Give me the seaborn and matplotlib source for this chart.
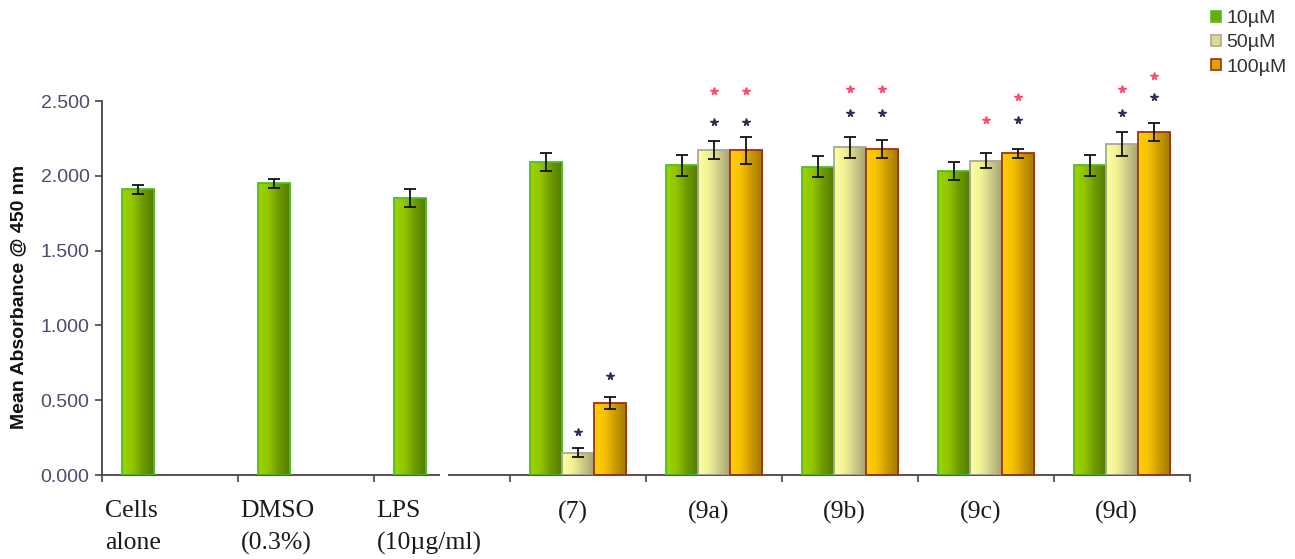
import numpy as np
import pandas as pd
import matplotlib
matplotlib.use("Agg")
import matplotlib.pyplot as plt
import seaborn as sns
from matplotlib.colors import LinearSegmentedColormap
from matplotlib.patches import Patch

# ---------------- data ----------------
categories = ["Cells\nalone", "DMSO\n(0.3%)", "LPS\n(10µg/ml)", "(7)", "(9a)", "(9b)", "(9c)", "(9d)"]
concs = ["10µM", "50µM", "100µM"]
mean_10 = [1.91, 1.95, 1.85, 2.09, 2.07, 2.06, 2.03, 2.07]
err_10 = [0.03, 0.03, 0.06, 0.06, 0.07, 0.07, 0.06, 0.07]
mean_50 = [None, None, None, 0.15, 2.17, 2.19, 2.10, 2.21]
err_50 = [None, None, None, 0.03, 0.06, 0.07, 0.05, 0.08]
mean_100 = [None, None, None, 0.48, 2.17, 2.18, 2.15, 2.29]
err_100 = [None, None, None, 0.04, 0.09, 0.06, 0.03, 0.06]
yticks = [0.0, 0.5, 1.0, 1.5, 2.0, 2.5]
ytick_labels = ["0.000", "0.500", "1.000", "1.500", "2.000", "2.500"]
ylabel = "Mean Absorbance @ 450 nm"

# significance stars: category, concentration, height, kind
star_cat = ["(7)", "(7)", "(9a)", "(9a)", "(9a)", "(9a)", "(9b)", "(9b)", "(9b)", "(9b)",
            "(9c)", "(9c)", "(9c)", "(9d)", "(9d)", "(9d)", "(9d)"]
star_conc = ["50µM", "100µM", "50µM", "50µM", "100µM", "100µM", "50µM", "50µM", "100µM", "100µM",
             "50µM", "100µM", "100µM", "50µM", "50µM", "100µM", "100µM"]
star_y = [0.29, 0.66, 2.36, 2.57, 2.36, 2.57, 2.42, 2.58, 2.42, 2.58,
          2.37, 2.37, 2.53, 2.42, 2.58, 2.53, 2.67]
star_kind = ["b", "b", "b", "r", "b", "r", "b", "r", "b", "r",
             "r", "b", "r", "b", "r", "b", "r"]

# ---------------- build long table ----------------
means = {"10µM": mean_10, "50µM": mean_50, "100µM": mean_100}
errs = {"10µM": err_10, "50µM": err_50, "100µM": err_100}
rows = []
for c in concs:
    for cat, m, e in zip(categories, means[c], errs[c]):
        if m is not None:
            rows.append({"category": cat, "conc": c, "value": m, "err": e})
df = pd.DataFrame(rows)

# ---------------- style ----------------
grad_stops = {
    "10µM": ["#a2d400", "#90c400", "#6a9600", "#527a00"],
    "50µM": ["#ffffa0", "#f2f294", "#c8c886", "#a4a070"],
    "100µM": ["#ffd000", "#f4c200", "#c89600", "#a07800"],
}
edge_cols = {"10µM": "#4cbf2a", "50µM": "#a8a898", "100µM": "#a0301a"}
mid_cols = {"10µM": "#6fa800", "50µM": "#dcdc8c", "100µM": "#dca400"}
star_cols = {"b": "#2e2e5c", "r": "#ff4a6a"}

W, H = 1295, 559
fig = plt.figure(figsize=(W / 100, H / 100), dpi=100)
ax = fig.add_axes([102 / W, (H - 475) / H, (1190 - 102) / W, (475 - 101) / H])

group_w = 0.71
sns.barplot(data=df, x="category", y="value", hue="conc", order=categories,
            hue_order=concs, palette=mid_cols, width=group_w, dodge=True,
            errorbar=None, saturation=1, legend=False, ax=ax)

bw = group_w / len(concs)
cat_idx = {c: i for i, c in enumerate(categories)}
for p in list(ax.patches):
    h = p.get_height()
    if not np.isfinite(h) or h <= 0:
        continue
    x0, w = p.get_x(), p.get_width()
    xc = x0 + w / 2
    ci = int(round(xc))
    hi = int(round((xc - ci) / bw)) + 1
    conc = concs[hi]
    cmap = LinearSegmentedColormap.from_list("g" + conc, grad_stops[conc])
    grad = np.linspace(0, 1, 128).reshape(1, -1)
    im = ax.imshow(grad, cmap=cmap, extent=[x0, x0 + w, 0, h], aspect="auto",
                   origin="lower", zorder=2, interpolation="bilinear")
    im.set_clip_path(p)
    p.set_facecolor("none")
    p.set_edgecolor(edge_cols[conc])
    p.set_linewidth(1.3)
    p.set_zorder(3)
    e = errs[conc][ci]
    ax.errorbar(xc, h, yerr=e, fmt="none", ecolor="#111111", elinewidth=1.3,
                capsize=4.5, capthick=1.3, zorder=4)

for cat, conc, y, k in zip(star_cat, star_conc, star_y, star_kind):
    x = cat_idx[cat] + (concs.index(conc) - 1) * bw
    ax.plot(x, y, marker="*", ms=5.5, color=star_cols[k], mec=star_cols[k],
            linestyle="none", clip_on=False, zorder=5)

ax.set_xlim(-0.5, len(categories) - 0.5)
ax.set_ylim(0, 2.5)
ax.set_yticks(yticks)
ax.set_yticklabels(ytick_labels)
ax.set_xticks(np.arange(-0.5, len(categories), 1.0))
ax.set_xticklabels([])
ax.set_xlabel("")
ax.set_ylabel(ylabel, fontsize=14, fontweight="bold", family=["Liberation Sans", "DejaVu Sans"],
              labelpad=5, color="#111111")
ax.yaxis.set_label_coords(-75 / 1088, 0.475)

for s in ["top", "right"]:
    ax.spines[s].set_visible(False)
for s in ["left", "bottom"]:
    ax.spines[s].set_color("#444444")
    ax.spines[s].set_linewidth(1.3)
ax.tick_params(axis="y", length=5, width=1.2, color="#444444", labelsize=14,
               labelcolor="#4b4b6e", pad=4)
ax.tick_params(axis="x", length=5, width=1.2, color="#444444")
for t in ax.get_yticklabels():
    t.set_family(["Liberation Sans", "DejaVu Sans"])

# small break in the x axis line
ax.plot([1.985, 2.045], [0, 0], color="white", lw=3, zorder=6, clip_on=False, solid_capstyle="butt")

# category labels
for i, cat in enumerate(categories):
    if i < 3:
        ax.text(i - 0.48, -0.068, cat, transform=ax.get_xaxis_transform(), ha="left", va="top",
                fontsize=18.5, family=["Liberation Serif", "DejaVu Serif"], color="#1a1a1a",
                linespacing=1.55, multialignment="left")
    else:
        ax.text(i - 0.04, -0.068, cat, transform=ax.get_xaxis_transform(), ha="center", va="top",
                fontsize=18.5, family=["Liberation Serif", "DejaVu Serif"], color="#1a1a1a")

# legend
handles = [Patch(facecolor=mid_cols[c], edgecolor=edge_cols[c], linewidth=1.2) for c in concs]
fig.legend(handles, concs, loc="upper left", bbox_to_anchor=(1209 / W, 1 - 8 / H),
           frameon=False, handlelength=0.5, handleheight=0.5, handletextpad=0.3,
           labelspacing=0.38, borderpad=0.1, borderaxespad=0,
           prop={"family": ["Liberation Sans", "DejaVu Sans"], "size": 14}, labelcolor="#333333")

fig.savefig("out.png", dpi=100)
